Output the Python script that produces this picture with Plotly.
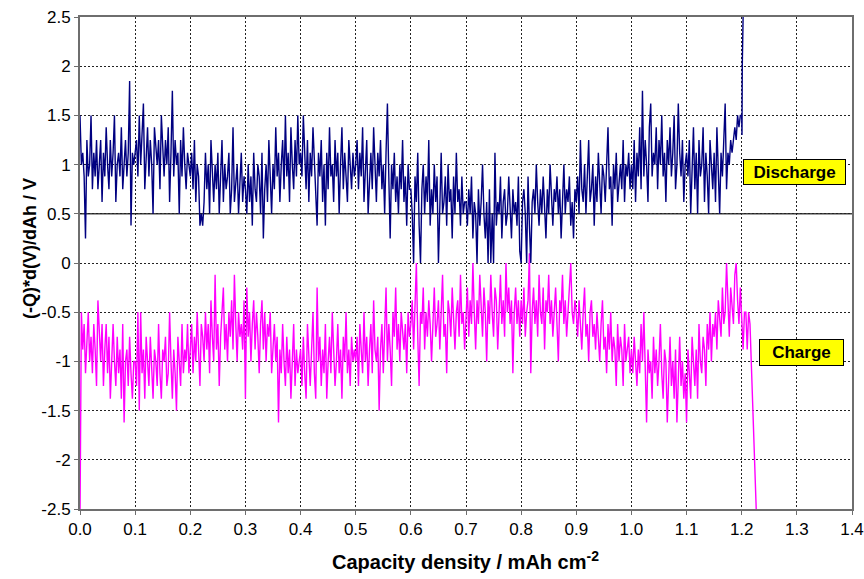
import numpy as np
import plotly.graph_objects as go

# Sampling step of the capacity axis (mAh cm^-2)
CAPACITY_STEP = 0.0025

# Discharge: (-Q)*dV/dQ, one row per 0.1 mAh cm^-2
discharge_vals = [
    1.5, 1.0, 1.12, 0.88, 0.25, 1.25, 0.88, 1.0, 1.5, 0.75,
    1.12, 0.88, 1.25, 0.75, 1.0, 1.25, 0.62, 1.12, 0.88, 1.38,
    1.0, 0.75, 1.25, 0.88, 1.12, 1.5, 0.62, 1.0, 1.12, 0.88,
    1.38, 0.75, 1.0, 1.25, 0.88, 1.12, 1.85, 0.38, 1.12, 1.0,
    # 0.1
    1.12, 1.25, 0.88, 1.5, 1.0, 1.25, 1.62, 0.75, 1.12, 1.38,
    0.88, 1.25, 1.0, 0.5, 1.38, 1.12, 1.0, 1.25, 0.75, 1.5,
    1.12, 0.88, 1.25, 1.0, 1.38, 0.62, 1.12, 1.75, 0.88, 1.25,
    1.0, 1.12, 0.5, 1.25, 0.88, 1.38, 1.0, 0.75, 1.12, 1.0,
    # 0.2
    0.88, 1.12, 0.75, 1.25, 0.62, 1.0, 0.88, 0.38, 0.5, 0.38,
    0.62, 1.12, 0.75, 1.0, 0.5, 1.25, 0.88, 0.62, 1.0, 0.75,
    1.12, 0.5, 0.88, 1.25, 0.62, 1.0, 0.75, 0.88, 1.12, 0.5,
    0.75, 1.38, 0.62, 0.88, 1.0, 0.5, 0.75, 1.12, 0.62, 0.88,
    # 0.3
    0.75, 0.5, 1.0, 0.62, 0.88, 0.38, 1.12, 0.75, 0.62, 1.0,
    0.88, 0.5, 1.12, 0.25, 0.75, 1.0, 0.62, 1.25, 0.88, 0.5,
    1.0, 0.75, 1.38, 0.88, 1.12, 0.62, 1.0, 1.25, 0.75, 1.5,
    0.88, 1.12, 0.62, 1.38, 1.0, 0.75, 1.25, 0.88, 1.5, 1.0,
    # 0.4
    1.12, 0.88, 1.5, 1.0, 0.75, 1.25, 0.62, 1.12, 0.88, 1.38,
    1.0, 0.75, 0.38, 1.12, 0.88, 1.25, 0.62, 1.0, 0.38, 1.12,
    0.75, 1.38, 0.88, 1.0, 0.62, 1.25, 0.88, 1.12, 0.5, 1.0,
    1.38, 0.75, 1.12, 0.88, 0.62, 1.25, 1.0, 0.75, 1.12, 0.88,
    # 0.5
    1.0, 1.25, 0.75, 1.12, 0.88, 1.38, 0.62, 1.0, 1.25, 0.5,
    0.88, 1.12, 0.75, 1.38, 1.0, 0.62, 1.12, 0.88, 1.25, 0.75,
    1.0, 0.5, 1.12, 1.62, 0.88, 0.25, 1.0, 0.75, 1.12, 0.62,
    0.88, 0.5, 1.0, 0.75, 1.25, 0.62, 0.88, 0.38, 1.0, 0.75,
    # 0.6
    0.75, 0.5, 0.0, 0.88, 0.62, 1.12, 0.38, 0.0, 0.75, 1.0,
    0.5, 0.88, 0.62, 1.25, 0.38, 0.75, 0.5, 1.0, 0.62, 0.88,
    0.0, 0.75, 1.12, 0.5, 0.62, 0.88, 0.38, 1.0, 0.62, 0.75,
    0.25, 0.88, 0.5, 1.12, 0.62, 0.75, 0.38, 0.88, 0.5, 0.62,
    # 0.7
    0.62, 0.38, 0.75, 0.5, 0.88, 0.25, 0.62, 0.5, 0.0, 0.75,
    0.38, 0.62, 1.0, 0.5, 0.25, 0.62, 0.0, 0.75, 0.0, 0.5,
    0.0, 1.12, 0.38, 0.62, 0.5, 0.88, 0.25, 0.62, 0.75, 0.38,
    0.5, 0.88, 0.62, 0.25, 0.75, 0.5, 0.62, 0.38, 0.88, 0.12,
    # 0.8
    0.0, 0.62, 0.75, 0.5, 0.0, 0.88, 0.38, 0.0, 0.62, 0.75,
    0.5, 1.0, 0.62, 0.38, 0.75, 0.5, 0.88, 0.62, 0.25, 0.75,
    0.5, 1.0, 0.62, 0.38, 0.75, 0.62, 0.88, 0.5, 0.75, 0.25,
    0.62, 1.0, 0.5, 0.75, 0.62, 0.88, 0.38, 0.62, 0.25, 0.75,
    # 0.9
    0.62, 0.88, 0.5, 1.25, 0.75, 0.62, 1.0, 0.5, 0.88, 1.25,
    0.62, 0.75, 1.0, 0.38, 0.88, 0.62, 1.12, 0.75, 0.5, 1.0,
    0.88, 0.62, 1.12, 1.38, 0.75, 0.88, 0.38, 1.0, 0.75, 1.12,
    0.62, 0.88, 1.0, 0.75, 1.25, 0.62, 1.0, 0.88, 1.12, 0.75,
    # 1.0
    1.0, 0.75, 1.25, 0.62, 1.12, 0.88, 1.38, 0.75, 1.75, 0.88,
    1.25, 1.0, 0.62, 1.38, 1.62, 0.88, 1.12, 1.0, 1.38, 0.75,
    1.25, 1.0, 1.5, 0.88, 1.12, 0.62, 1.25, 1.0, 1.38, 0.88,
    1.12, 1.5, 0.75, 1.0, 1.62, 1.12, 0.88, 1.25, 0.62, 1.0,
    # 1.1
    1.12, 0.88, 1.25, 0.5, 1.0, 1.38, 0.75, 1.12, 0.5, 1.25,
    0.88, 1.0, 1.38, 0.62, 1.12, 0.88, 0.5, 1.25, 1.0, 0.75,
    1.12, 0.62, 1.38, 1.0, 0.5, 1.12, 0.88, 1.25, 1.62, 0.75,
    1.12, 1.0, 1.25, 1.12, 1.25, 1.38, 1.25, 1.5, 1.38, 1.5,
]
# End of discharge: steep rise
discharge_tail_x = [1.2, 1.2005, 1.201, 1.2025, 1.204]
discharge_tail_y = [1.5, 1.3, 2.0, 2.55, 3.0]

# Charge: (-Q)*dV/dQ, one row per 0.1 mAh cm^-2
charge_vals = [
    -2.6, -0.5, -0.88, -0.62, -1.12, -0.75, -0.5, -1.0, -0.75, -1.12,
    -0.62, -0.88, -1.25, -0.38, -0.75, -1.0, -0.62, -1.25, -0.88, -0.62,
    -1.12, -0.75, -1.38, -0.88, -0.62, -1.0, -1.25, -0.75, -1.12, -0.88,
    -1.38, -0.62, -1.62, -1.0, -0.88, -1.25, -0.75, -1.12, -1.38, -1.0,
    # 0.1
    -1.0, -1.25, -0.5, -1.5, -0.5, -1.12, -0.88, -1.38, -0.75, -1.0,
    -1.25, -0.75, -1.12, -1.38, -0.88, -1.0, -1.25, -0.62, -1.12, -1.38,
    -0.88, -1.0, -0.75, -1.25, -1.12, -0.5, -1.0, -1.38, -0.88, -1.12,
    -1.5, -0.75, -1.0, -1.25, -0.62, -1.12, -0.88, -1.0, -0.62, -1.12,
    # 0.2
    -0.88, -0.62, -1.12, -0.75, -1.0, -0.5, -0.88, -1.25, -0.62, -0.75,
    -1.0, -0.5, -0.88, -0.62, -1.12, -0.38, -0.75, -1.0, -0.12, -0.88,
    -0.62, -1.25, -0.75, -0.5, -0.25, -0.88, -0.62, -1.0, -0.5, -0.75,
    -0.38, -0.88, -0.12, -0.62, -1.0, -0.5, -0.75, -0.62, -0.88, -0.38,
    # 0.3
    -1.38, -0.25, -0.75, -0.5, -1.0, -0.62, -0.38, -0.88, -0.5, -0.75,
    -1.12, -0.62, -0.38, -0.88, -0.5, -1.0, -0.62, -0.75, -0.5, -1.12,
    -0.88, -0.62, -1.0, -0.75, -1.62, -0.88, -1.12, -0.62, -1.0, -1.25,
    -0.75, -1.12, -0.88, -1.38, -1.0, -0.62, -1.25, -0.88, -1.12, -1.0,
    # 0.4
    -0.88, -1.25, -0.75, -1.12, -1.38, -0.62, -1.0, -1.25, -0.88, -0.5,
    -1.12, -1.38, -0.25, -1.0, -0.75, -1.25, -0.88, -1.12, -0.62, -1.38,
    -1.0, -0.75, -1.12, -0.5, -0.88, -1.25, -1.0, -0.62, -1.12, -0.88,
    -1.38, -0.75, -1.0, -0.5, -1.12, -0.88, -1.25, -0.75, -1.0, -0.88,
    # 0.5
    -1.0, -0.75, -1.25, -0.62, -0.88, -1.12, -0.5, -1.0, -0.75, -1.25,
    -0.88, -0.62, -1.12, -0.38, -0.88, -1.0, -0.75, -1.5, -0.88, -0.62,
    -1.12, -0.75, -0.25, -1.0, -0.62, -0.88, -1.25, -0.5, -0.75, -0.25,
    -0.88, -0.62, -1.0, -0.5, -0.75, -0.88, -0.62, -1.12, -0.5, -0.75,
    # 0.6
    -0.62, -0.38, -0.88, -0.5, 0.0, -0.75, -1.25, -0.5, -0.62, -0.25,
    -0.88, -0.5, -0.75, -0.38, -0.62, -1.0, -0.5, -0.25, -0.75, -0.62,
    -0.38, -0.88, -0.5, -0.12, -0.75, -0.62, -1.12, -0.38, -0.5, -0.75,
    -0.25, -0.62, -0.88, -0.5, -0.38, -0.75, -0.12, -0.62, -0.5, -0.88,
    # 0.7
    -0.5, -0.25, -0.75, -0.38, -0.62, 0.0, -0.5, -0.88, -0.38, -0.62,
    -0.12, -0.5, -0.75, -0.25, -0.5, -1.0, -0.38, -0.62, -0.12, -0.5,
    -0.75, -0.25, -0.38, -0.88, -0.5, -0.12, -0.62, -0.38, -0.75, 0.0,
    -0.5, -0.25, -0.62, -0.38, -1.12, -0.5, -0.25, -0.62, -0.38, -0.75,
    # 0.8
    -0.38, -0.62, -0.25, -0.75, -0.5, -0.38, 0.1, -1.12, -0.5, -0.25,
    -0.62, -0.38, -0.75, -0.12, -0.5, -0.62, -0.25, -0.88, -0.38, -0.5,
    -0.12, -0.62, -0.38, -0.75, -0.5, -0.25, -0.62, -1.0, -0.38, -0.5,
    -0.12, -0.62, -0.38, -0.75, -0.5, -0.25, 0.0, -0.5, -0.62, -0.38,
    # 0.9
    -0.5, -0.75, -0.38, -0.62, -0.88, -0.5, -0.25, -0.75, -0.62, -1.0,
    -0.5, -0.38, -0.75, -0.62, -0.88, -0.5, -0.75, -1.0, -0.62, -0.38,
    -0.88, -0.75, -1.12, -0.62, -0.88, -0.5, -1.0, -0.75, -0.88, -1.25,
    -0.62, -1.0, -0.75, -0.88, -1.25, -0.62, -1.0, -0.88, -0.75, -1.12,
    # 1.0
    -0.88, -1.12, -0.75, -1.0, -1.25, -0.88, -1.12, -0.62, -1.0, -0.5,
    -1.25, -1.62, -0.88, -1.12, -1.0, -1.38, -0.75, -1.12, -0.88, -1.25,
    -1.0, -0.62, -1.12, -1.38, -0.88, -1.0, -1.62, -1.12, -0.75, -1.25,
    -1.0, -1.38, -0.88, -1.62, -1.12, -0.75, -1.25, -1.0, -1.38, -1.12,
    # 1.1
    -1.62, -0.88, -1.12, -1.38, -0.75, -1.0, -1.25, -0.88, -1.38, -0.62,
    -1.0, -1.12, -0.75, -0.88, -1.25, -0.62, -0.88, -0.5, -1.0, -0.62,
    -0.75, -0.5, -0.88, -0.38, -0.62, -0.75, -0.25, -0.62, -0.5, 0.0,
    -0.38, -0.75, -0.25, -0.5, -0.62, -0.12, 0.0, -0.38, -0.62, -0.25,
]
# End of charge: short plateau, then steep fall
charge_tail_x = [1.2, 1.2025, 1.205, 1.2075, 1.21, 1.2125, 1.215, 1.217, 1.2195, 1.2225, 1.2275]
charge_tail_y = [-0.5, -0.88, -0.5, -0.5, -0.88, -0.5, -0.62, -1.0, -1.5, -2.0, -2.7]

# Solid reference level drawn across the plot
REFERENCE_LEVEL = 0.5

x_ticks = [round(0.1 * i, 1) for i in range(15)]
x_tick_text = [f"{v:.1f}" for v in x_ticks]
y_ticks = [-2.5, -2, -1.5, -1, -0.5, 0, 0.5, 1, 1.5, 2, 2.5]
y_tick_text = ["-2.5", "-2", "-1.5", "-1", "-0.5", "0", "0.5", "1", "1.5", "2", "2.5"]

dis_x = list(np.round(np.arange(len(discharge_vals)) * CAPACITY_STEP, 4)) + discharge_tail_x
dis_y = discharge_vals + discharge_tail_y
chg_x = list(np.round(np.arange(len(charge_vals)) * CAPACITY_STEP, 4)) + charge_tail_x
chg_y = charge_vals + charge_tail_y

FONT = "Liberation Sans, Arial, sans-serif"

fig = go.Figure()
fig.add_trace(go.Scatter(x=chg_x, y=chg_y, mode="lines", name="Charge",
                         line=dict(color="#FF00FF", width=1.4)))
fig.add_trace(go.Scatter(x=dis_x, y=dis_y, mode="lines", name="Discharge",
                         line=dict(color="#000080", width=1.4)))

fig.add_shape(type="line", xref="paper", x0=0, x1=1, yref="y",
              y0=REFERENCE_LEVEL, y1=REFERENCE_LEVEL,
              line=dict(color="#404040", width=1.5), layer="below")

box = dict(showarrow=False, bgcolor="#FFFF00", bordercolor="#000000",
           borderwidth=1, borderpad=3, font=dict(family=FONT, size=17, color="#000000"))
fig.add_annotation(x=1.296, y=0.925, text="<b>Discharge</b>", width=95, height=18, **box)
fig.add_annotation(x=1.3085, y=-0.91, text="<b>Charge</b>", width=77, height=19, **box)

# Axis titles
fig.add_annotation(xref="paper", yref="paper", x=-0.065, y=0.53, xanchor="center", yanchor="middle",
                   textangle=-90, showarrow=False, text="<b>(-Q)*d(V)/dAh / V</b>",
                   font=dict(family=FONT, size=18, color="#000000"))
fig.add_annotation(xref="paper", yref="paper", x=0.499, y=-0.104, xanchor="center", yanchor="middle",
                   showarrow=False, text="<b>Capacity density / mAh cm<sup>-2</sup></b>",
                   font=dict(family=FONT, size=20, color="#000000"))

axis_common = dict(showgrid=True, gridcolor="#222222", griddash="2px,2px", gridwidth=1,
                   showline=True, linecolor="#6e6e6e", linewidth=2, mirror=True,
                   zeroline=False, ticks="outside", ticklen=4, tickcolor="#6e6e6e",
                   automargin=False,
                   tickfont=dict(family=FONT, size=17, color="#000000"))

fig.update_xaxes(range=[0, 1.4], tickvals=x_ticks, ticktext=x_tick_text, **axis_common)
fig.update_yaxes(range=[-2.5, 2.5], tickvals=y_ticks, ticktext=y_tick_text, **axis_common)

fig.update_layout(width=864, height=579, margin=dict(l=80, r=12, t=17, b=70),
                  paper_bgcolor="#FFFFFF", plot_bgcolor="#FFFFFF", showlegend=False)

fig.write_html("out.html")
